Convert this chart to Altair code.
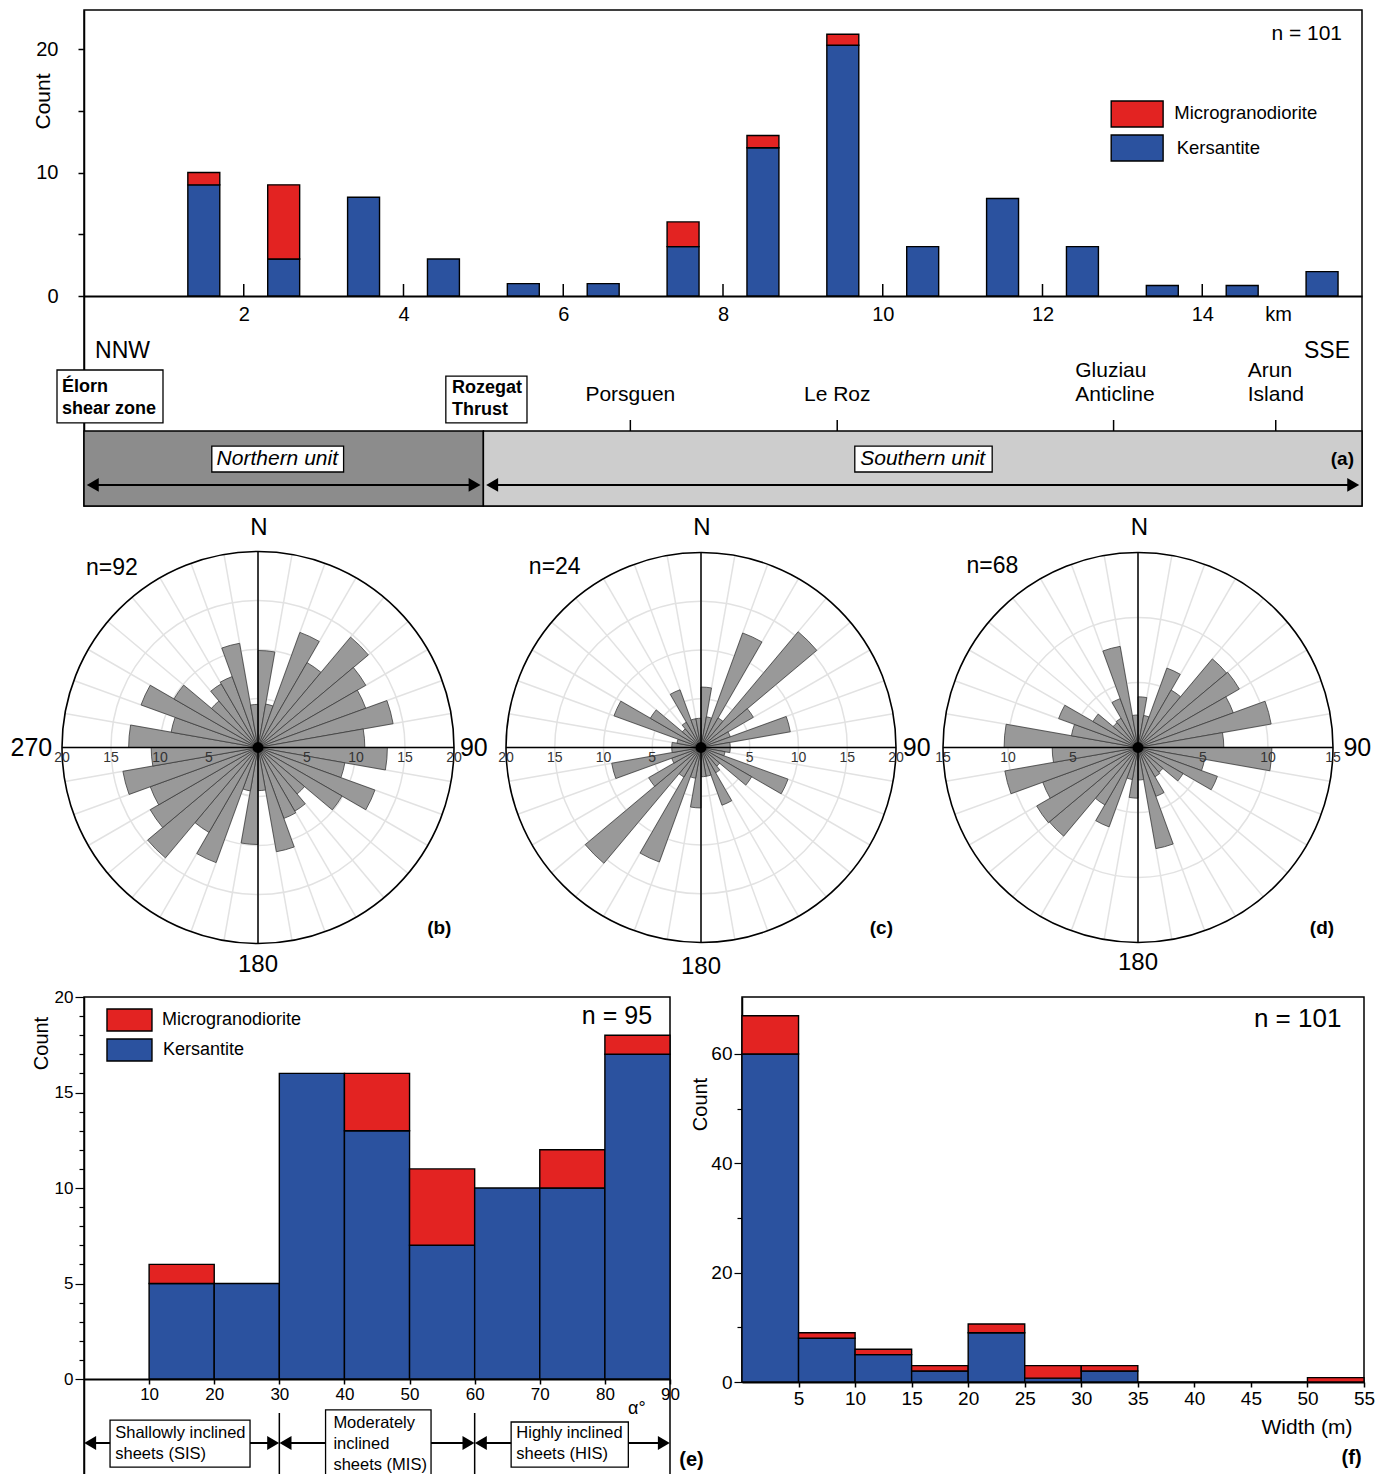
import math
import altair as alt
import pandas as pd

FONT = "Liberation Sans"
RED = "#e32322"
BLUE = "#2b529f"
SERIES = ["Microgranodiorite", "Kersantite"]
COLOR = alt.Scale(domain=SERIES, range=[RED, BLUE])
HEAD = alt.Scale(domain=["left", "right"], range=["triangle-left", "triangle-right"])

# ---------------- (a) dykes along the NNW-SSE section ----------------
a_km_centre = [1.5, 2.5, 3.5, 4.5, 5.5, 6.5, 7.5, 8.5, 9.5, 10.5, 11.5, 12.5, 13.5, 14.5, 15.5]
a_kersantite = [9, 3, 8, 3, 1, 1, 4, 12, 20.3, 4, 7.9, 4, 0.85, 0.85, 1.97]
a_microgranodiorite = [1, 6, 0, 0, 0, 0, 2, 1, 0.9, 0, 0, 0, 0, 0, 0]
a_tick_km = [2, 4, 6, 8, 10, 12, 14]
a_places = ["Porsguen", "Le Roz"]
a_place_km = [6.84, 9.43]
a_places2 = ["Gluziau\nAnticline", "Arun\nIsland"]
a_place2_km = [12.89, 14.92]
a_units = ["Northern unit", "Southern unit"]
a_unit_from_km = [0, 5]
a_unit_to_km = [5, 16]

# ---------------- (b)-(d) rose diagrams: 10 degree sectors 0-180, mirrored ----------------
rose_b = [9.9, 4.5, 12.5, 10.0, 14.7, 12.7, 11.7, 14.0, 10.9, 13.2, 9.0, 12.7, 9.9, 6.2, 7.5, 7.7, 10.8, 4.4]
rose_c = [6.2, 3.2, 12.5, 3.5, 15.5, 6.2, 3.2, 9.3, 3.0, 3.0, 2.5, 9.5, 6.0, 2.5, 3.0, 6.3, 3.0, 3.0]
rose_d = [3.9, 2.5, 6.5, 5.1, 8.9, 9.0, 7.8, 10.4, 6.6, 10.3, 5.2, 6.5, 4.0, 2.5, 2.6, 4.0, 7.9, 2.5]

# ---------------- (e) dip of the sheets ----------------
e_bin_start = [10, 20, 30, 40, 50, 60, 70, 80]
e_kersantite = [5, 5, 16, 13, 7, 10, 10, 17]
e_microgranodiorite = [1, 0, 0, 3, 4, 0, 2, 1]
e_classes = ["Shallowly inclined\nsheets (SIS)", "Moderately\ninclined\nsheets (MIS)", "Highly inclined\nsheets (HIS)"]
e_class_from = [0, 30, 60]
e_class_to = [30, 60, 90]

# ---------------- (f) width of the dykes ----------------
f_bin_start = [0, 5, 10, 15, 20, 25, 30, 35, 40, 45, 50]
f_kersantite = [60, 8, 5, 2, 9, 0.7, 2, 0, 0, 0, 0]
f_microgranodiorite = [7, 1, 1, 1, 1.6, 2.3, 1, 0, 0, 0, 0.8]


# ---------------- helpers (P = (x scale, y scale, x axis, y axis)) ----------------
def qx(field, P):
    return alt.X(f"{field}:Q", scale=P[0], axis=P[2])


def qy(field, P):
    return alt.Y(f"{field}:Q", scale=P[1], axis=P[3])


def stacked(starts, width, kers, micro):
    rows = []
    for s, k, m in zip(starts, kers, micro):
        if k > 0:
            rows.append({"x0": s, "x1": s + width, "y0": 0.0, "y1": k, "series": "Kersantite"})
        if m > 0:
            rows.append({"x0": s, "x1": s + width, "y0": k, "y1": k + m, "series": "Microgranodiorite"})
    return pd.DataFrame(rows)


def bar_layer(df, P):
    return alt.Chart(df).mark_rect(stroke="black", strokeWidth=1.4).encode(
        x=qx("x0", P), x2="x1:Q", y=qy("y0", P), y2="y1:Q",
        color=alt.Color("series:N", scale=COLOR, legend=None))


def texts(labels, xv, yv, P, **mk):
    df = pd.DataFrame({"t": labels, "x": xv, "y": yv})
    return alt.Chart(df).mark_text(**mk).encode(x=qx("x", P), y=qy("y", P), text="t:N")


def rects(df, P, **mk):
    return alt.Chart(df).mark_rect(**mk).encode(x=qx("x0", P), x2="x1:Q", y=qy("y0", P), y2="y1:Q")


def vrules(xv, y0, y1, P, **mk):
    df = pd.DataFrame({"x": xv, "y0": [y0] * len(xv), "y1": [y1] * len(xv)})
    return alt.Chart(df).mark_rule(**mk).encode(x=qx("x", P), y=qy("y0", P), y2="y1:Q")


def double_arrows(starts, ends, y, off, P, size):
    ldf = pd.DataFrame({"x0": [s + off for s in starts], "x1": [e - off for e in ends], "y": [y] * len(starts)})
    line = alt.Chart(ldf).mark_rule(color="black", strokeWidth=2).encode(
        x=qx("x0", P), x2="x1:Q", y=qy("y", P))
    hx = [s + off for s in starts] + [e - off for e in ends]
    hd = ["left"] * len(starts) + ["right"] * len(ends)
    hdf = pd.DataFrame({"x": hx, "y": [y] * len(hx), "d": hd})
    heads = alt.Chart(hdf).mark_point(filled=True, color="black", opacity=1, size=size, strokeWidth=0).encode(
        x=qx("x", P), y=qy("y", P), shape=alt.Shape("d:N", scale=HEAD, legend=None))
    return [line, heads]


def legend_layers(P, bx0, bx1, boxes_y, tx, ty, size):
    df = pd.DataFrame({"series": SERIES, "x0": [bx0] * 2, "x1": [bx1] * 2,
                       "y0": [b[0] for b in boxes_y], "y1": [b[1] for b in boxes_y]})
    r = alt.Chart(df).mark_rect(stroke="black", strokeWidth=1.4).encode(
        x=qx("x0", P), x2="x1:Q", y=qy("y0", P), y2="y1:Q",
        color=alt.Color("series:N", scale=COLOR, legend=None))
    t = texts(SERIES, tx, ty, P, align="left", fontSize=size)
    return [r, t]


def frame():
    return alt.ViewBackground(stroke="black", strokeWidth=1.5)


# ======================= panel (a) =======================
A_PPU = 12.35
xa = alt.Scale(domain=[0, 16], nice=False, zero=False)
ya = alt.Scale(domain=[-210 / A_PPU, 286 / A_PPU], nice=False, zero=False)
a_xaxis = alt.Axis(values=a_tick_km + [14.95], labelExpr="datum.value > 14.5 ? 'km' : datum.label",
                   orient="bottom", offset=-210, ticks=False, domain=True, domainWidth=2,
                   labelFontSize=20, labelPadding=8, labelFlush=False, labelOverlap=False, title=None)
a_yaxis = alt.Axis(values=[0, 5, 10, 15, 20], labelExpr="datum.value % 10 === 0 ? datum.label : ''",
                   tickSize=6, tickWidth=1.5, domainWidth=1.5, labelFontSize=20, labelPadding=20,
                   labelFlush=False, labelOverlap=False, title="Count", titleFontSize=21, titleX=-31, titleY=91)
PA = (xa, ya, a_xaxis, a_yaxis)

units_df = pd.DataFrame({"unit": a_units, "x0": a_unit_from_km, "x1": a_unit_to_km,
                         "y0": [-210 / A_PPU] * 2, "y1": [-10.93] * 2})
units = alt.Chart(units_df).mark_rect(stroke="black", strokeWidth=1.5).encode(
    x=qx("x0", PA), x2="x1:Q", y=qy("y0", PA), y2="y1:Q",
    fill=alt.Fill("unit:N", scale=alt.Scale(domain=a_units, range=["#8c8c8c", "#cdcdcd"]), legend=None))

bars_a = bar_layer(stacked([c - 0.2 for c in a_km_centre], 0.4, a_kersantite, a_microgranodiorite), PA)

boxes_a = pd.DataFrame({"x0": [-0.338, 4.53, 1.6, 9.65], "x1": [0.989, 5.546, 3.25, 11.37],
                        "y0": [-5.99, -6.48, -12.15, -12.15], "y1": [-10.28, -10.28, -14.25, -14.25]})

layers_a = [units]
layers_a += double_arrows([0.0, 5.0], [5.0, 16.0], -15.3, 0.11, PA, 190)
layers_a += [
    rects(boxes_a, PA, fill="white", stroke="black", strokeWidth=1.3),
    vrules(a_tick_km, 0, 0.97, PA, color="black", strokeWidth=1.5),
    vrules(a_place_km + a_place2_km, -10.04, -10.93, PA, color="black", strokeWidth=1.5),
    bars_a,
]
layers_a += legend_layers(PA, 12.86, 13.51, [(15.79, 13.68), (13.04, 10.93)],
                          [13.65, 13.68], [14.82, 11.98], 18.5)
layers_a += [
    texts(["NNW"], [0.138], [-4.45], PA, align="left", fontSize=23),
    texts(["SSE"], [15.85], [-4.45], PA, align="right", fontSize=23),
    texts(a_places, a_place_km, [-8.02, -8.02], PA, fontSize=21),
    texts(a_places2, [12.41, 14.57], [-6.07, -6.07], PA, align="left", fontSize=21,
          lineBreak="\n", lineHeight=24),
    texts(["Élorn\nshear zone", "Rozegat\nThrust"], [-0.275, 4.607], [-7.37, -7.45], PA,
          align="left", fontSize=18, fontWeight="bold", lineBreak="\n", lineHeight=22),
    texts(a_units, [2.42, 10.5], [-13.2, -13.2], PA, fontSize=21, fontStyle="italic"),
    texts(["(a)"], [15.9], [-13.2], PA, align="right", fontSize=19, fontWeight="bold"),
    texts(["n = 101"], [15.75], [21.2], PA, align="right", fontSize=21),
]
panel_a = alt.layer(*layers_a).properties(width=1278, height=496, view=frame())


# ======================= rose diagrams =======================
def rose_panel(half, vmax, R, left, right, top, bottom, rings, n_text, n_pos, tag, tag_pos,
               n_y, s_y, e_x, w_x=None):
    ppu = R / vmax
    xs = alt.Scale(domain=[-left / ppu, right / ppu], nice=False, zero=False)
    ys = alt.Scale(domain=[-bottom / ppu, top / ppu], nice=False, zero=False)
    P = (xs, ys, None, None)
    ths = alt.Scale(domain=[0, 360], range=[0, 2 * math.pi])
    rs = alt.Scale(type="linear", domain=[0, vmax], range=[0, R], nice=False, zero=True)

    def arcs(df, **mk):
        return alt.Chart(df).mark_arc(**mk).encode(
            x=qx("cx", P), y=qy("cy", P),
            theta=alt.Theta("t0:Q", scale=ths, stack=False), theta2="t1:Q",
            radius=alt.Radius("r:Q", scale=rs, stack=False))

    sectors = pd.DataFrame({"t0": [10 * i for i in range(36)],
                            "t1": [10 * i + 10 for i in range(36)],
                            "r": [half[i % 18] for i in range(36)]})
    sectors["cx"] = 0.0
    sectors["cy"] = 0.0
    ring_df = pd.DataFrame({"r": rings})
    ring_df["t0"] = 0
    ring_df["t1"] = 360
    ring_df["cx"] = 0.0
    ring_df["cy"] = 0.0
    outer_df = pd.DataFrame({"r": [vmax], "t0": [0], "t1": [360], "cx": [0.0], "cy": [0.0]})

    spokes = alt.Chart(pd.DataFrame({"a": list(range(0, 360, 10))})).transform_calculate(
        cx="0", cy="0",
        ex=f"{vmax} * sin(datum.a * PI / 180)", ey=f"{vmax} * cos(datum.a * PI / 180)"
    ).mark_rule(color="#e2e2e2", strokeWidth=1.5).encode(
        x=qx("cx", P), y=qy("cy", P), x2="ex:Q", y2="ey:Q")

    cross_df = pd.DataFrame({"x0": [-vmax, 0], "y0": [0, -vmax], "x1": [vmax, 0], "y1": [0, vmax]})
    cross = alt.Chart(cross_df).mark_rule(color="black", strokeWidth=1.5).encode(
        x=qx("x0", P), y=qy("y0", P), x2="x1:Q", y2="y1:Q")

    sv = list(range(5, vmax + 1, 5))
    scale_lab = texts([str(v) for v in sv[::-1]] + [str(v) for v in sv],
                      [-v for v in sv[::-1]] + sv, [0] * (2 * len(sv)), P,
                      fontSize=14, dy=10, color="#333333")
    dot = alt.Chart(pd.DataFrame({"x": [0.0], "y": [0.0]})).mark_point(
        filled=True, color="black", opacity=1, size=120).encode(x=qx("x", P), y=qy("y", P))

    layers = [
        spokes,
        arcs(ring_df, fillOpacity=0, stroke="#e2e2e2", strokeWidth=1.5),
        arcs(sectors, fill="#999999", stroke="#3c3c3c", strokeWidth=0.8),
        arcs(outer_df, fillOpacity=0, stroke="black", strokeWidth=1.6),
        cross,
        scale_lab,
        dot,
        texts(["N", "180"], [0.1, 0.0], [n_y, s_y], P, fontSize=24),
        texts(["90"], [e_x], [0], P, align="left", fontSize=25),
        texts([n_text], [n_pos[0]], [n_pos[1]], P, fontSize=23),
        texts([tag], [tag_pos[0]], [tag_pos[1]], P, fontSize=19, fontWeight="bold"),
    ]
    if w_x is not None:
        layers.append(texts(["270"], [w_x], [0], P, align="right", fontSize=25))
    return alt.layer(*layers).properties(width=left + right, height=top + bottom)


ROSE_TOP, ROSE_BOTTOM = 230.5, 232
rose_b_chart = rose_panel(rose_b, 20, 196, 174, 220, ROSE_TOP, ROSE_BOTTOM, [5, 10, 15], "n=92", (-14.9, 18.3),
                          "(b)", (18.5, -18.4), 22.4, -22.2, 20.6, w_x=-21.0)
rose_c_chart = rose_panel(rose_c, 20, 195, 223, 217, ROSE_TOP, ROSE_BOTTOM, [5, 10, 15], "n=24", (-15.0, 18.5),
                          "(c)", (18.5, -18.5), 22.5, -22.5, 20.7)
rose_d_chart = rose_panel(rose_d, 15, 195, 220, 224, ROSE_TOP, ROSE_BOTTOM, [5, 10], "n=68", (-11.2, 14.0),
                          "(d)", (14.15, -13.9), 16.9, -16.6, 15.8)
row_roses = alt.hconcat(rose_b_chart, rose_c_chart, rose_d_chart, spacing=0, bounds="flush").resolve_scale(
    theta="independent", radius="independent")

# ======================= panel (e) =======================
E_PPU = 19.1
xe = alt.Scale(domain=[0, 90], nice=False, zero=False)
ye = alt.Scale(domain=[-101 / E_PPU, 20], nice=False, zero=False)
e_xaxis = alt.Axis(values=list(range(10, 91, 10)), orient="bottom", offset=-101, tickSize=5, tickWidth=1.5,
                   domainWidth=2, labelFontSize=17, labelPadding=2, labelFlush=False, labelOverlap=False, title=None)
e_yaxis = alt.Axis(values=list(range(0, 21)), labelExpr="datum.value % 5 === 0 ? datum.label : ''",
                   tickSize={"condition": {"test": "datum.value % 5 === 0", "value": 9}, "value": 5},
                   tickWidth=1.2, domainWidth=1.5, labelFontSize=17, labelPadding=2, labelFlush=False,
                   labelOverlap=False, title="Count", titleFontSize=20, titleX=-33, titleY=46)
PE = (xe, ye, e_xaxis, e_yaxis)
bars_e = bar_layer(stacked(e_bin_start, 10, e_kersantite, e_microgranodiorite), PE)
boxes_e = pd.DataFrame({"x0": [4.0, 37.1, 65.6], "x1": [25.5, 53.3, 83.6],
                        "y0": [-2.15, -1.62, -2.25], "y1": [-4.61, -101 / E_PPU, -4.61]})
layers_e = [bars_e, vrules([30, 60], -1.78, -101 / E_PPU, PE, color="black", strokeWidth=1.5)]
layers_e += double_arrows(e_class_from, e_class_to, -3.35, 0.95, PE, 190)
layers_e += [
    rects(boxes_e, PE, fill="white", stroke="black", strokeWidth=1.3),
    texts(e_classes, [4.8, 38.3, 66.4], [-2.83, -2.30, -2.83], PE, align="left", fontSize=16.5,
          lineBreak="\n", lineHeight=21),
    texts(["α°"], [84.9], [-1.58], PE, fontSize=18),
    texts(["(e)"], [93.3], [-4.25], PE, fontSize=20, fontWeight="bold"),
    texts(["n = 95"], [87.24], [19.0], PE, align="right", fontSize=25),
]
layers_e += legend_layers(PE, 3.53, 10.44, [(19.37, 18.22), (17.80, 16.65)],
                          [11.98, 12.13], [18.80, 17.23], 18)
panel_e = alt.layer(*layers_e).properties(width=586, height=483, view=frame())

# ======================= panel (f) =======================
F_PPU = 5.467
xf = alt.Scale(domain=[0, 55], nice=False, zero=False)
yf = alt.Scale(domain=[0, 385 / F_PPU], nice=False, zero=False)
f_xaxis = alt.Axis(values=list(range(5, 56, 5)), tickSize=5, tickWidth=1.5, domainWidth=2, labelFontSize=19,
                   labelPadding=2, labelFlush=False, labelOverlap=False, title="Width (m)", titleFontSize=21,
                   titleX=610, titleY=45, titleAlign="right", titleBaseline="middle")
f_yaxis = alt.Axis(values=list(range(0, 61, 10)), labelExpr="datum.value % 20 === 0 ? datum.label : ''",
                   tickSize={"condition": {"test": "datum.value % 20 === 0", "value": 8}, "value": 5},
                   tickWidth=1.2, domainWidth=1.5, labelFontSize=19, labelPadding=2, labelFlush=False,
                   labelOverlap=False, title="Count", titleFontSize=20, titleX=-32, titleY=107)
PF = (xf, yf, f_xaxis, f_yaxis)
bars_f = bar_layer(stacked(f_bin_start, 5, f_kersantite, f_microgranodiorite), PF)
layers_f = [
    bars_f,
    texts(["n = 101"], [53.0], [66.4], PF, align="right", fontSize=26),
    texts(["(f)"], [53.9], [-13.9], PF, fontSize=20, fontWeight="bold"),
]
panel_f = alt.layer(*layers_f).properties(width=622, height=385, view=frame())

row_ef = alt.hconcat(panel_e, panel_f, spacing=72, bounds="flush")

chart = alt.vconcat(panel_a, row_roses, row_ef, spacing=7).resolve_scale(
    theta="independent", radius="independent"
).properties(
    padding={"left": 10, "top": 9, "right": 0, "bottom": 0}
).configure(font=FONT).configure_view(strokeWidth=0).configure_axis(
    labelColor="black", titleColor="black", tickColor="black", domainColor="black",
    labelFont=FONT, titleFont=FONT, titleFontWeight="normal", grid=False)

chart.save("out.html", embed_options={"renderer": "svg", "actions": False})
